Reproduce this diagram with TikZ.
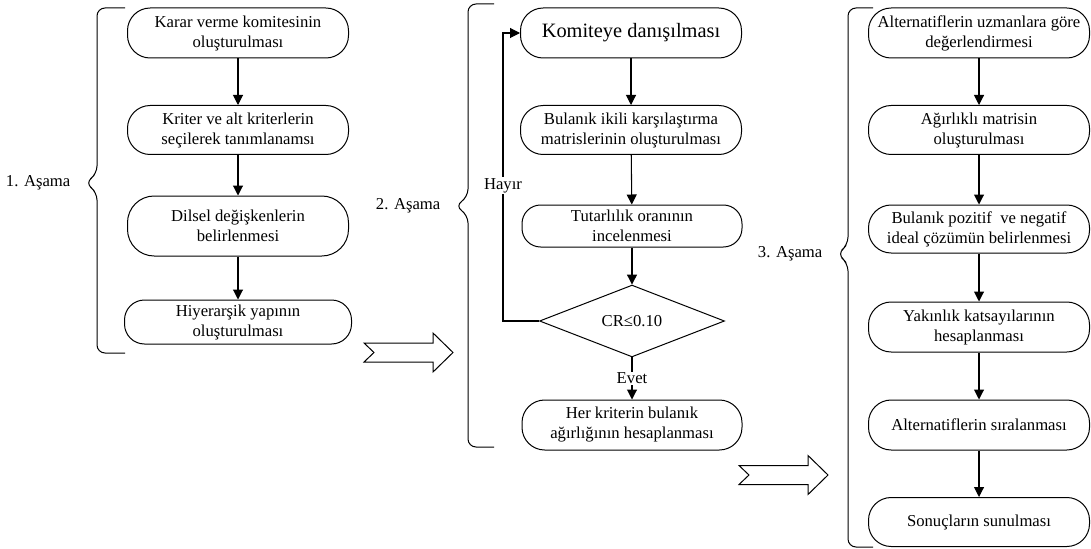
\documentclass[tikz,border=0pt]{standalone}
\usepackage{fontspec}
\setmainfont{Liberation Serif}
\usetikzlibrary{shapes.geometric,arrows.meta}

\begin{document}
\begin{tikzpicture}[x=0.75pt,y=-0.75pt,
    every node/.style={font=\fontsize{12.5}{15}\selectfont},
    kutu/.style={draw,line width=.75pt,rounded corners=17pt,minimum width=165.75pt,minimum height=37.5pt,inner sep=0pt,align=center},
    karar/.style={diamond,draw,line width=.75pt,minimum width=138.75pt,minimum height=43.5pt,inner sep=0pt},
    ok/.style={line width=.8pt,-{Triangle[length=7.5pt,width=7.5pt]}},
    etiket/.style={fill=white,inner sep=1pt},
    kose/.style={line width=.75pt,rounded corners=6pt}]

    \useasboundingbox (0,0) rectangle (1091,549);

    % 1. asama
    \node[kutu] (k1) at (238,33) {Karar verme komitesinin\\oluşturulması};
    \node[kutu,minimum height=36.75pt] (k2) at (238,130) {Kriter ve alt kriterlerin\\seçilerek tanımlanamsı};
    \node[kutu,minimum height=45pt,rounded corners=20pt] (k3) at (238,226) {Dilsel değişkenlerin\\belirlenmesi};
    \node[kutu,minimum height=33pt,minimum width=170.25pt,rounded corners=15pt] (k4) at (238,322) {Hiyerarşik yapının\\oluşturulması};

    % 2. asama
    \node[kutu,font=\fontsize{15.3}{18}\selectfont] (d1) at (631,33) {Komiteye danışılması};
    \node[kutu,minimum height=36.75pt] (d2) at (631,130) {Bulanık ikili karşılaştırma\\matrislerinin oluşturulması};
    \node[kutu,minimum height=31.5pt,minimum width=165pt,rounded corners=14pt] (d3) at (632,226) {Tutarlılık oranının\\incelenmesi};
    \node[karar] (dia) at (632,321) {CR≤0.10};
    \node[kutu,minimum width=165pt] (d4) at (632,425) {Her kriterin bulanık\\ağırlığının hesaplanması};

    % 3. asama
    \node[kutu] (t1) at (979,33) {Alternatiflerin uzmanlara göre\\değerlendirmesi};
    \node[kutu,minimum height=36.75pt] (t2) at (979,130) {Ağırlıklı matrisin\\oluşturulması};
    \node[kutu,minimum height=36pt] (t3) at (979,229) {Bulanık pozitif\ \ ve negatif\\ideal çözümün belirlenmesi};
    \node[kutu] (t4) at (979,327) {Yakınlık katsayılarının\\hesaplanması};
    \node[kutu] (t5) at (979,425) {Alternatiflerin sıralanması};
    \node[kutu,minimum height=36.75pt] (t6) at (979,522) {Sonuçların sunulması};

    \foreach \a/\b in {k1/k2,k2/k3,k3/k4,d1/d2,d2/d3,d3/dia,t1/t2,t2/t3,t3/t4,t4/t5,t5/t6}
        \draw[ok] (\a) -- (\b);

    \draw[ok] (dia) -- node[etiket] {Evet} (d4);

    \coordinate (geri) at (503,321);
    \draw[ok] (dia.west) -- (geri) -- node[etiket,pos=.47] {Hayır} (geri |- d1.west) -- (d1.west);

    % suslu parantezler
    \foreach \sol/\sag/\ust/\alt/\uc/\yuk/\ad in {97/125/8/353/85/183/1, 468/494/4/447/455/206/2, 848/873/8/547/837/254/3} {
        \draw[kose] (\sag,\ust) -- (\sol,\ust) -- (\sol,\yuk-9) -- (\uc,\yuk) -- (\sol,\yuk+9) -- (\sol,\alt) -- (\sag,\alt);
        \node[anchor=east] (faz\ad) at (\uc-10,\yuk) {\ad. Aşama};
    }

    % bos oklar
    \foreach \px/\py in {364/352.5,739/475}
        \draw[line width=.75pt,shift={(\px,\py)}] (0,-9.5) -- (69,-9.5) -- (69,-19.5) -- (89,0) -- (69,19.5) -- (69,9.5) -- (0,9.5) -- (10,0) -- cycle;

\end{tikzpicture}
\end{document}
